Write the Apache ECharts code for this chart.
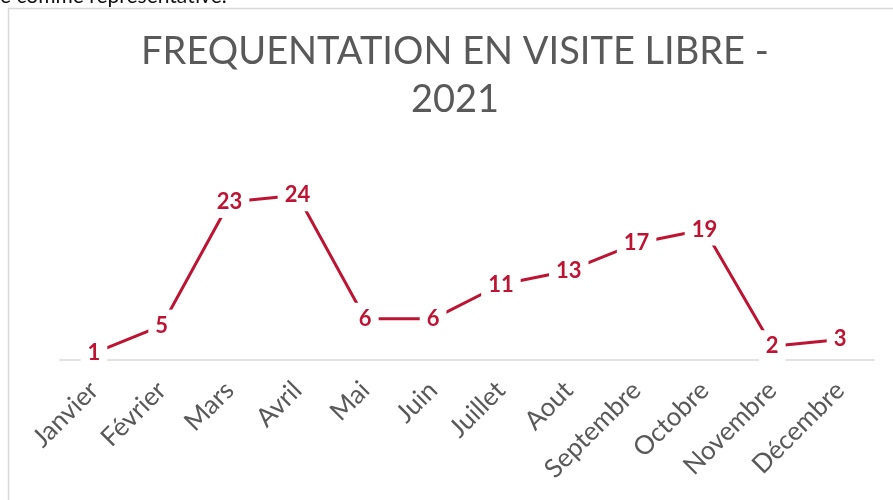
<!DOCTYPE html>
<html>
  <head>
    <meta charset="utf-8" />
    <title>Frequentation en visite libre</title>
    <script src="https://cdn.jsdelivr.net/npm/echarts@6.0.0/dist/echarts.min.js"></script>
    <style>
      html, body { margin: 0; padding: 0; background: #fff; }
    </style>
  </head>
  <body>
    <div id="main" style="width: 893px;height:500px;"></div>

    <script type="text/javascript">
      var months = ['Janvier', 'Février', 'Mars', 'Avril', 'Mai', 'Juin', 'Juillet',
        'Aout', 'Septembre', 'Octobre', 'Novembre', 'Décembre'];
      var visits = [1, 5, 23, 24, 6, 6, 11, 13, 17, 19, 2, 3];

      var red = '#BE1433';
      var chart = echarts.init(document.getElementById('main'));

      var option = {
        backgroundColor: '#fff',
        animation: false,
        graphic: [
          {
            type: 'rect',
            shape: { x: 8.5, y: 8.5, width: 1000, height: 1000 },
            style: { fill: null, stroke: '#d9d9d9', lineWidth: 1.5 },
            silent: true,
            z: -1
          },
          {
            type: 'text',
            x: 0,
            y: -14,
            style: {
              text: 'e comme représentative.',
              font: '21px Lato',
              fill: '#111'
            }
          },
          {
            type: 'text',
            x: 455,
            y: 28,
            style: {
              text: 'FREQUENTATION EN VISITE LIBRE -\n2021',
              font: '38px Lato',
              lineHeight: 48,
              align: 'center',
              fill: '#595959'
            }
          }
        ],
        grid: {
          left: 60,
          right: 19,
          top: 154,
          bottom: 140
        },
        xAxis: {
          type: 'category',
          data: months,
          boundaryGap: true,
          axisLine: { lineStyle: { color: '#d9d9d9', width: 1.5 } },
          axisTick: { show: false },
          axisLabel: {
            rotate: 45,
            margin: 26,
            interval: 0,
            fontFamily: 'Lato',
            fontSize: 26,
            color: '#595959'
          }
        },
        yAxis: {
          type: 'value',
          min: 0,
          max: 30,
          show: false,
          splitLine: { show: false }
        },
        series: [
          {
            type: 'line',
            data: visits,
            symbol: 'circle',
            symbolSize: 0.1,
            lineStyle: { color: red, width: 3 },
            itemStyle: { color: red },
            label: {
              show: true,
              position: 'inside',
              fontFamily: 'Lato',
              fontWeight: 'bold',
              fontSize: 22,
              color: red,
              backgroundColor: '#fff',
              padding: [5, 7]
            }
          }
        ]
      };

      chart.setOption(option);
    </script>
  </body>
</html>
